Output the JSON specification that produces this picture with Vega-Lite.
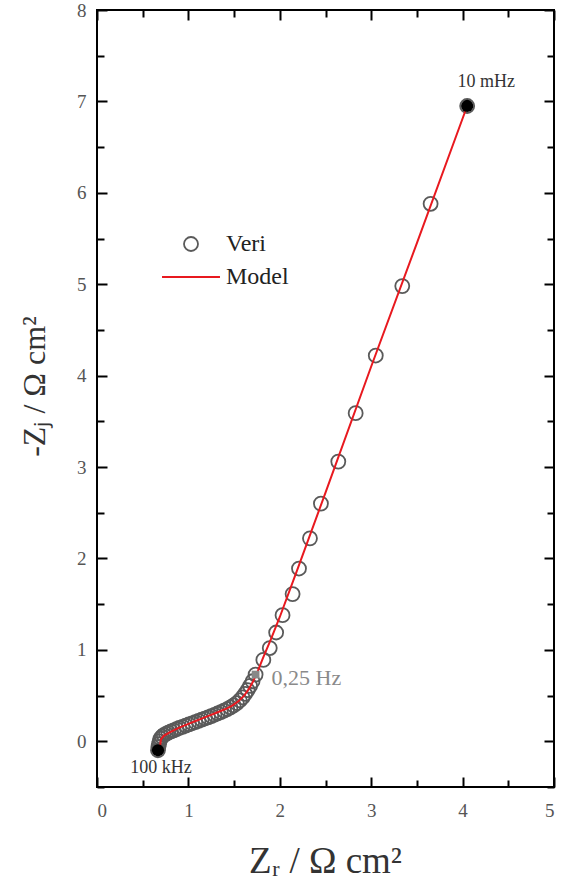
{
  "$schema": "https://vega.github.io/schema/vega-lite/v6.json",
  "width": 457,
  "height": 777,
  "autosize": "none",
  "padding": {"left": 97, "top": 10, "right": 13, "bottom": 103},
  "background": "white",
  "config": {
    "view": {"stroke": "black", "strokeWidth": 2},
    "axis": {
      "domain": false,
      "grid": false,
      "tickColor": "black",
      "tickWidth": 2,
      "labelFont": "Liberation Serif",
      "labelFontSize": 19,
      "labelColor": "#555555",
      "titleFont": "Liberation Serif",
      "titleFontSize": 37,
      "titleFontWeight": "normal",
      "titleColor": "#333333"
    }
  },
  "datasets": {
    "veri": [
      {"zr": 0.667, "zj": -0.098, "series": "Veri"},
      {"zr": 0.672, "zj": -0.06, "series": "Veri"},
      {"zr": 0.678, "zj": -0.03, "series": "Veri"},
      {"zr": 0.685, "zj": 0.0, "series": "Veri"},
      {"zr": 0.695, "zj": 0.03, "series": "Veri"},
      {"zr": 0.71, "zj": 0.05, "series": "Veri"},
      {"zr": 0.73, "zj": 0.068, "series": "Veri"},
      {"zr": 0.755, "zj": 0.082, "series": "Veri"},
      {"zr": 0.78, "zj": 0.095, "series": "Veri"},
      {"zr": 0.81, "zj": 0.108, "series": "Veri"},
      {"zr": 0.84, "zj": 0.12, "series": "Veri"},
      {"zr": 0.87, "zj": 0.133, "series": "Veri"},
      {"zr": 0.9, "zj": 0.146, "series": "Veri"},
      {"zr": 0.935, "zj": 0.158, "series": "Veri"},
      {"zr": 0.97, "zj": 0.171, "series": "Veri"},
      {"zr": 1.005, "zj": 0.184, "series": "Veri"},
      {"zr": 1.04, "zj": 0.197, "series": "Veri"},
      {"zr": 1.075, "zj": 0.21, "series": "Veri"},
      {"zr": 1.11, "zj": 0.223, "series": "Veri"},
      {"zr": 1.145, "zj": 0.236, "series": "Veri"},
      {"zr": 1.18, "zj": 0.249, "series": "Veri"},
      {"zr": 1.215, "zj": 0.262, "series": "Veri"},
      {"zr": 1.25, "zj": 0.276, "series": "Veri"},
      {"zr": 1.285, "zj": 0.29, "series": "Veri"},
      {"zr": 1.32, "zj": 0.304, "series": "Veri"},
      {"zr": 1.355, "zj": 0.319, "series": "Veri"},
      {"zr": 1.39, "zj": 0.335, "series": "Veri"},
      {"zr": 1.425, "zj": 0.352, "series": "Veri"},
      {"zr": 1.46, "zj": 0.371, "series": "Veri"},
      {"zr": 1.495, "zj": 0.393, "series": "Veri"},
      {"zr": 1.53, "zj": 0.418, "series": "Veri"},
      {"zr": 1.562, "zj": 0.447, "series": "Veri"},
      {"zr": 1.592, "zj": 0.48, "series": "Veri"},
      {"zr": 1.62, "zj": 0.518, "series": "Veri"},
      {"zr": 1.648, "zj": 0.56, "series": "Veri"},
      {"zr": 1.675, "zj": 0.606, "series": "Veri"},
      {"zr": 1.702, "zj": 0.657, "series": "Veri"},
      {"zr": 1.735, "zj": 0.73, "series": "Veri"},
      {"zr": 1.82, "zj": 0.89, "series": "Veri"},
      {"zr": 1.89, "zj": 1.02, "series": "Veri"},
      {"zr": 1.96, "zj": 1.19, "series": "Veri"},
      {"zr": 2.03, "zj": 1.38, "series": "Veri"},
      {"zr": 2.14, "zj": 1.61, "series": "Veri"},
      {"zr": 2.21, "zj": 1.89, "series": "Veri"},
      {"zr": 2.33, "zj": 2.22, "series": "Veri"},
      {"zr": 2.45, "zj": 2.6, "series": "Veri"},
      {"zr": 2.64, "zj": 3.06, "series": "Veri"},
      {"zr": 2.83, "zj": 3.59, "series": "Veri"},
      {"zr": 3.05, "zj": 4.22, "series": "Veri"},
      {"zr": 3.34, "zj": 4.98, "series": "Veri"},
      {"zr": 3.65, "zj": 5.88, "series": "Veri"},
      {"zr": 4.05, "zj": 6.95, "series": "Veri"}
    ],
    "model": [
      {"zr": 0.69, "zj": -0.05, "series": "Model"},
      {"zr": 0.7, "zj": 0.02, "series": "Model"},
      {"zr": 0.73, "zj": 0.06, "series": "Model"},
      {"zr": 0.8, "zj": 0.1, "series": "Model"},
      {"zr": 0.9, "zj": 0.15, "series": "Model"},
      {"zr": 1.0, "zj": 0.19, "series": "Model"},
      {"zr": 1.1, "zj": 0.23, "series": "Model"},
      {"zr": 1.2, "zj": 0.27, "series": "Model"},
      {"zr": 1.3, "zj": 0.31, "series": "Model"},
      {"zr": 1.4, "zj": 0.35, "series": "Model"},
      {"zr": 1.48, "zj": 0.39, "series": "Model"},
      {"zr": 1.55, "zj": 0.44, "series": "Model"},
      {"zr": 1.61, "zj": 0.5, "series": "Model"},
      {"zr": 1.66, "zj": 0.57, "series": "Model"},
      {"zr": 1.71, "zj": 0.66, "series": "Model"},
      {"zr": 1.76, "zj": 0.77, "series": "Model"},
      {"zr": 1.82, "zj": 0.92, "series": "Model"},
      {"zr": 1.9, "zj": 1.11, "series": "Model"},
      {"zr": 2.0, "zj": 1.36, "series": "Model"},
      {"zr": 2.2, "zj": 1.9, "series": "Model"},
      {"zr": 2.5, "zj": 2.72, "series": "Model"},
      {"zr": 3.0, "zj": 4.1, "series": "Model"},
      {"zr": 3.5, "zj": 5.45, "series": "Model"},
      {"zr": 4.05, "zj": 6.95, "series": "Model"}
    ],
    "marks": [
      {"zr": 0.667, "zj": -0.098, "label": "100 kHz", "kind": "high"},
      {"zr": 1.735, "zj": 0.73, "label": "0,25 Hz", "kind": "mid"},
      {"zr": 4.05, "zj": 6.95, "label": "10 mHz", "kind": "low"}
    ]
  },
  "resolve": {"axis": {"x": "independent", "y": "independent"}},
  "layer": [
    {
      "data": {"name": "marks"},
      "mark": {"type": "point", "opacity": 0},
      "encoding": {
        "x": {"field": "zr", "type": "quantitative",
          "scale": {"domain": [0, 5], "nice": false, "zero": false},
          "axis": {"orient": "top", "values": [0, 0.5, 1, 1.5, 2, 2.5, 3, 3.5, 4, 4.5, 5], "labels": false, "title": null,
            "tickSize": {"condition": {"test": "datum.value % 1 === 0", "value": -10}, "value": -7}}},
        "y": {"field": "zj", "type": "quantitative",
          "scale": {"domain": [-0.5, 8], "nice": false, "zero": false},
          "axis": {"orient": "right", "values": [-0.5, 0, 0.5, 1, 1.5, 2, 2.5, 3, 3.5, 4, 4.5, 5, 5.5, 6, 6.5, 7, 7.5, 8], "labels": false, "title": null,
            "tickSize": {"condition": {"test": "datum.value % 1 === 0", "value": -10}, "value": -7}}}
      }
    },
    {
      "mark": {"type": "rule", "color": "black", "strokeWidth": 2},
      "encoding": {"y": {"datum": 0, "type": "quantitative", "axis": null}}
    },
    {
      "data": {"name": "veri"},
      "mark": {"type": "point", "filled": false, "size": 196, "strokeWidth": 1.8, "opacity": 1},
      "encoding": {
        "x": {"field": "zr", "type": "quantitative", "axis": null},
        "y": {"field": "zj", "type": "quantitative", "axis": null},
        "color": {"field": "series", "type": "nominal",
          "scale": {"domain": ["Veri", "Model"], "range": ["#5a5a5a", "#e8191f"]},
          "legend": {"orient": "none", "legendX": 82, "legendY": 222, "title": null, "symbolSize": 196, "symbolStrokeWidth": 1.8, "symbolFillColor": "transparent", "labelFont": "Liberation Serif", "labelFontSize": 24, "labelColor": "#222222", "labelOffset": 23, "rowPadding": 9}},
        "shape": {"field": "series", "type": "nominal",
          "scale": {"domain": ["Veri", "Model"], "range": ["M0,-1A1,1 0 1,1 0,1A1,1 0 1,1 0,-1Z", "M-4.14,0L4.14,0"]},
          "legend": {"orient": "none", "legendX": 82, "legendY": 222, "title": null, "symbolSize": 196, "symbolStrokeWidth": 1.8, "symbolFillColor": "transparent", "labelFont": "Liberation Serif", "labelFontSize": 24, "labelColor": "#222222", "labelOffset": 23, "rowPadding": 9}}
      }
    },
    {
      "data": {"name": "model"},
      "mark": {"type": "line", "strokeWidth": 2},
      "encoding": {
        "x": {"field": "zr", "type": "quantitative",
          "axis": {"orient": "bottom", "values": [0, 0.5, 1, 1.5, 2, 2.5, 3, 3.5, 4, 4.5, 5],
            "labelExpr": "datum.value % 1 === 0 ? format(datum.value, 'd') : ''",
            "tickSize": {"condition": {"test": "datum.value % 1 === 0", "value": -10}, "value": -7},
            "labelPadding": 24, "labelBaseline": "top",
            "title": "Zᵣ / Ω cm²", "titleX": 228, "titleY": 85, "titleAlign": "center", "titleBaseline": "alphabetic"}},
        "y": {"field": "zj", "type": "quantitative",
          "axis": {"orient": "left", "values": [-0.5, 0, 0.5, 1, 1.5, 2, 2.5, 3, 3.5, 4, 4.5, 5, 5.5, 6, 6.5, 7, 7.5, 8],
            "labelExpr": "datum.value % 1 === 0 ? format(datum.value, 'd') : ''",
            "tickSize": {"condition": {"test": "datum.value % 1 === 0", "value": -10}, "value": -7},
            "labelPadding": 21,
            "title": "-Zⱼ / Ω cm²", "titleFontSize": 32, "titleX": -63, "titleY": 376, "titleAngle": -90, "titleAlign": "center", "titleBaseline": "middle"}},
        "color": {"field": "series", "type": "nominal"}
      }
    },
    {
      "data": {"name": "marks"},
      "transform": [{"filter": "datum.kind !== 'mid'"}],
      "mark": {"type": "point", "shape": "circle", "filled": true, "color": "black", "size": 150, "opacity": 1},
      "encoding": {
        "x": {"field": "zr", "type": "quantitative", "axis": null},
        "y": {"field": "zj", "type": "quantitative", "axis": null}
      }
    },
    {
      "data": {"name": "marks"},
      "transform": [{"filter": "datum.kind === 'mid'"}],
      "mark": {"type": "point", "shape": "square", "filled": true, "color": "#888888", "size": 60, "opacity": 1},
      "encoding": {
        "x": {"field": "zr", "type": "quantitative", "axis": null},
        "y": {"field": "zj", "type": "quantitative", "axis": null}
      }
    },
    {
      "data": {"name": "marks"},
      "transform": [{"filter": "datum.kind === 'high'"}],
      "mark": {"type": "text", "font": "Liberation Serif", "fontSize": 18, "color": "#333333", "align": "center", "baseline": "middle", "dx": 3, "dy": 18},
      "encoding": {
        "x": {"field": "zr", "type": "quantitative", "axis": null},
        "y": {"field": "zj", "type": "quantitative", "axis": null},
        "text": {"field": "label"}
      }
    },
    {
      "data": {"name": "marks"},
      "transform": [{"filter": "datum.kind === 'low'"}],
      "mark": {"type": "text", "font": "Liberation Serif", "fontSize": 18, "color": "#333333", "align": "center", "baseline": "middle", "dx": 19, "dy": -24},
      "encoding": {
        "x": {"field": "zr", "type": "quantitative", "axis": null},
        "y": {"field": "zj", "type": "quantitative", "axis": null},
        "text": {"field": "label"}
      }
    },
    {
      "data": {"name": "marks"},
      "transform": [{"filter": "datum.kind === 'mid'"}],
      "mark": {"type": "text", "font": "Liberation Serif", "fontSize": 22, "color": "#8a8a8a", "align": "left", "baseline": "middle", "dx": 16, "dy": 3},
      "encoding": {
        "x": {"field": "zr", "type": "quantitative", "axis": null},
        "y": {"field": "zj", "type": "quantitative", "axis": null},
        "text": {"field": "label"}
      }
    }
  ]
}
